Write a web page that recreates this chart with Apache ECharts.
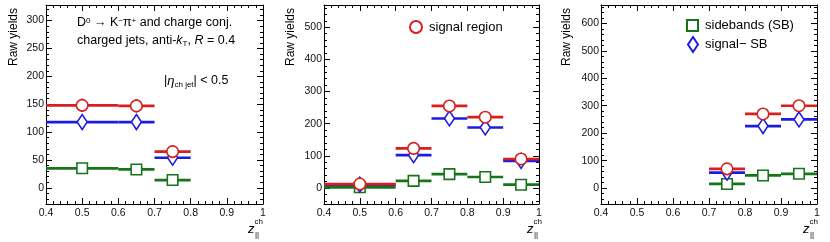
<!DOCTYPE html>
<html><head><meta charset="utf-8">
<script src="https://cdn.jsdelivr.net/npm/echarts@6/dist/echarts.min.js"></script>
<style>html,body{margin:0;padding:0;background:#fff}#c{width:830px;height:242px}</style>
</head><body><div id="c"></div>
<script>
// ---- data ----
const xTickLabels = ['0.4', '0.5', '0.6', '0.7', '0.8', '0.9', '1'];

// panel 1
const p1Center = [0.5, 0.65, 0.75];
const p1Low = [0.4, 0.6, 0.7];
const p1High = [0.6, 0.7, 0.8];
const p1Signal = [148, 147, 65];
const p1SignalErr = [12, 12, 8];
const p1SigMinusSB = [118, 118, 54];
const p1SigMinusSBErr = [13, 13, 9];
const p1SB = [35, 33, 14];
const p1SBErr = [3, 3, 2];

// panel 2
const p2Center = [0.5, 0.65, 0.75, 0.85, 0.95];
const p2Low = [0.4, 0.6, 0.7, 0.8, 0.9];
const p2High = [0.6, 0.7, 0.8, 0.9, 1.0];
const p2Signal = [12, 123, 255, 220, 90];
const p2SignalErr = [4, 11, 16, 15, 10];
const p2SigMinusSB = [10, 102, 216, 188, 84];
const p2SigMinusSBErr = [6, 12, 17, 16, 10];
const p2SB = [2, 22, 43, 34, 10];
const p2SBErr = [1, 3, 4, 4, 2];

// panel 3
const p3Center = [0.75, 0.85, 0.95];
const p3Low = [0.7, 0.8, 0.9];
const p3High = [0.8, 0.9, 1.0];
const p3Signal = [70, 270, 300];
const p3SignalErr = [8, 16, 17];
const p3SigMinusSB = [56, 226, 250];
const p3SigMinusSBErr = [9, 17, 18];
const p3SB = [15, 46, 52];
const p3SBErr = [2, 4, 4];

// ---- style ----
const RED = '#d81e1e', BLUE = '#1c1ce0', GREEN = '#16751a';
const FONT = 'Liberation Sans';

const panels = [
  {left: 46, width: 217, ymin: -29, ymax: 328, split: 7, minor: 5,
   c: p1Center, lo: p1Low, hi: p1High,
   s: [p1SB, p1SigMinusSB, p1Signal], e: [p1SBErr, p1SigMinusSBErr, p1SignalErr]},
  {left: 324, width: 215, ymin: -50, ymax: 569, split: 6, minor: 5,
   c: p2Center, lo: p2Low, hi: p2High,
   s: [p2SB, p2SigMinusSB, p2Signal], e: [p2SBErr, p2SigMinusSBErr, p2SignalErr]},
  {left: 601, width: 216, ymin: -58, ymax: 667, split: 7, minor: 5,
   c: p3Center, lo: p3Low, hi: p3High,
   s: [p3SB, p3SigMinusSB, p3Signal], e: [p3SBErr, p3SigMinusSBErr, p3SignalErr]}
];
const seriesNames = ['sidebands (SB)', 'signal\u2212 SB', 'signal region'];
const colors = [GREEN, BLUE, RED];
const symbols = ['rect', 'diamond', 'circle'];
const symSizes = [10.5, [10, 15], 11.5];

function errRender(color) {
  return function (params, api) {
    const x = api.value(0), y = api.value(1), lo = api.value(2), hi = api.value(3), e = api.value(4);
    const pL = api.coord([lo, y]), pR = api.coord([hi, y]);
    const pT = api.coord([x, y + e]), pB = api.coord([x, y - e]);
    return {type: 'group', children: [
      {type: 'line', shape: {x1: pL[0], y1: pL[1], x2: pR[0], y2: pR[1]}, style: {stroke: color, lineWidth: 2.7}},
      {type: 'line', shape: {x1: pT[0], y1: pT[1], x2: pB[0], y2: pB[1]}, style: {stroke: color, lineWidth: 2}}
    ]};
  };
}

const grid = [], xAxis = [], yAxis = [], series = [];
const tickCol = '#000';
panels.forEach((p, i) => {
  grid.push({left: p.left, width: p.width, top: 5, height: 199});
  const xBase = {
    type: 'value', gridIndex: i, min: 0.4, max: 1, interval: 0.1,
    axisLine: {onZero: false, lineStyle: {color: tickCol, width: 1}},
    axisTick: {inside: true, length: 6, lineStyle: {color: tickCol}},
    minorTick: {show: true, splitNumber: 5, length: 3, lineStyle: {color: tickCol}},
    splitLine: {show: false}
  };
  xAxis.push(Object.assign({}, xBase, {position: 'bottom',
    axisLabel: {color: '#111', fontSize: 10.5, fontFamily: FONT, margin: 4,
      formatter: v => xTickLabels[Math.round((v - 0.4) / 0.1)]}}));
  xAxis.push(Object.assign({}, xBase, {position: 'top', axisLabel: {show: false}}));
  const yBase = {
    type: 'value', gridIndex: i, min: p.ymin, max: p.ymax, splitNumber: p.split,
    axisLine: {onZero: false, lineStyle: {color: tickCol, width: 1}},
    axisTick: {inside: true, length: 6, lineStyle: {color: tickCol}},
    minorTick: {show: true, splitNumber: p.minor, length: 3, lineStyle: {color: tickCol}},
    splitLine: {show: false}
  };
  yAxis.push(Object.assign({}, yBase, {position: 'left',
    axisLabel: {color: '#111', fontSize: 10.5, fontFamily: FONT, margin: 2, showMinLabel: false, showMaxLabel: false}}));
  yAxis.push(Object.assign({}, yBase, {position: 'right', axisLabel: {show: false}}));

  // error bars (horizontal bin width + vertical stat error)
  for (let k = 0; k < 3; k++) {
    const data = p.c.map((x, j) => [x, p.s[k][j], p.lo[j], p.hi[j], p.e[k][j]]);
    series.push({
      type: 'custom', name: 'err' + k, xAxisIndex: 2 * i, yAxisIndex: 2 * i,
      renderItem: errRender(colors[k]), data: data, encode: {x: 0, y: 1}, z: 2, silent: true
    });
  }
  for (let k = 0; k < 3; k++) {
    const data = p.c.map((x, j) => [x, p.s[k][j]]);
    series.push({
      type: 'scatter', name: seriesNames[k], xAxisIndex: 2 * i, yAxisIndex: 2 * i,
      symbol: symbols[k], symbolSize: symSizes[k], data: data, z: 3 + k, silent: true,
      itemStyle: {color: '#fff', borderColor: colors[k], borderWidth: 1.6, opacity: 1}
    });
  }
});

const legendBase = {orient: 'vertical', selectedMode: false, itemGap: 7, padding: 0,
  textStyle: {fontFamily: FONT, fontSize: 13, color: '#000', padding: [0, 0, 0, 2]}};
const legend = [
  Object.assign({}, legendBase, {left: 409, top: 20, itemWidth: 12, itemHeight: 12, data: ['signal region']}),
  Object.assign({}, legendBase, {left: 686, top: 19, itemWidth: 11, itemHeight: 11, data: ['sidebands (SB)']}),
  Object.assign({}, legendBase, {left: 687, top: 36, itemWidth: 10, itemHeight: 15, data: ['signal\u2212 SB']})
];

const txt = (x, y, text, opts) => ({type: 'text', x: x, y: y, rotation: (opts && opts.rot) || 0,
  style: Object.assign({text: text, fill: '#000', font: `${(opts && opts.size) || 12.5}px "${FONT}"`,
    align: (opts && opts.align) || 'left', verticalAlign: 'middle'}, (opts && opts.extra) || {})});

const graphic = [];
// y-axis titles
[14, 291, 567].forEach(x => graphic.push(txt(x, 37, 'Raw yields', {rot: Math.PI / 2, align: 'center', size: 12})));
// x-axis titles
[248, 527, 803].forEach(x => {
  graphic.push(txt(x, 229, 'z', {size: 13, extra: {font: `italic 13px "${FONT}"`}}));
  graphic.push(txt(x + 6.5, 222, 'ch', {size: 8}));
  graphic.push(txt(x + 7, 235, '||', {size: 8}));
});
// panel 1 annotations
graphic.push({type: 'text', x: 77, y: 23, style: {
  text: 'D{sup|0} \u2192 K{sup|\u2212}\u03c0{sup|+} and charge conj.',
  font: `12.5px "${FONT}"`, fill: '#000', verticalAlign: 'middle',
  rich: {sup: {fontSize: 8, fontFamily: FONT, verticalAlign: 'top', lineHeight: 8, padding: [0, 0, 6, 0]}}}});
graphic.push({type: 'text', x: 77, y: 41, style: {
  text: 'charged jets, anti-{it|k}{sub|T}, {it|R} = 0.4',
  font: `12.5px "${FONT}"`, fill: '#000', verticalAlign: 'middle',
  rich: {it: {fontStyle: 'italic', fontSize: 12.5, fontFamily: FONT},
         sub: {fontSize: 8, fontFamily: FONT, padding: [6, 0, 0, 0]}}}});
graphic.push({type: 'text', x: 164, y: 81, style: {
  text: '|{it|\u03b7}{sub|ch jet}| < 0.5',
  font: `12.5px "${FONT}"`, fill: '#000', verticalAlign: 'middle',
  rich: {it: {fontStyle: 'italic', fontSize: 13, fontFamily: FONT},
         sub: {fontSize: 8, fontFamily: FONT, padding: [8, 0, 0, 0]}}}});

const chart = echarts.init(document.getElementById('c'), null, {renderer: 'canvas'});
chart.setOption({
  animation: false, backgroundColor: '#fff',
  grid, xAxis, yAxis, series, legend, graphic
});
</script></body></html>
